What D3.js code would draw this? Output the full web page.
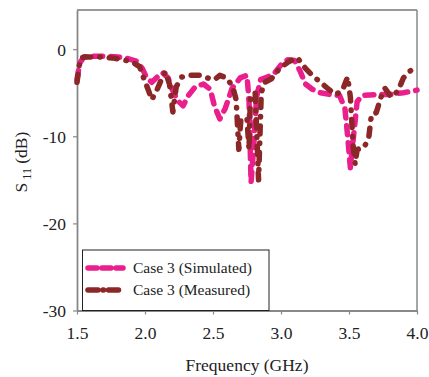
<!DOCTYPE html>
<html><head><meta charset="utf-8">
<script src="https://cdn.jsdelivr.net/npm/d3@7"></script>
<style>body{margin:0;background:#fff;} text{font-family:"Liberation Serif","Times New Roman",serif;}</style>
</head><body>
<svg id="c" width="429" height="377"></svg>
<script>
const xTicks = [1.5, 2.0, 2.5, 3.0, 3.5, 4.0];
const yTicks = [0, -10, -20, -30];
const seriesNames = ["Case 3 (Simulated)", "Case 3 (Measured)"];
const simF = [1.50,1.52,1.55,1.60,1.70,1.80,1.88,1.94,1.98,2.01,2.05,2.09,2.13,2.17,2.20,2.24,2.28,2.32,2.37,2.43,2.48,2.51,2.55,2.59,2.64,2.70,2.75,2.765,2.78,2.80,2.82,2.85,2.90,2.95,3.00,3.05,3.10,3.14,3.18,3.23,3.29,3.36,3.43,3.47,3.49,3.51,3.53,3.56,3.60,3.70,3.80,3.90,4.00];
const simDb = [-3.5,-1.6,-0.9,-0.8,-0.8,-0.9,-1.1,-1.4,-2.2,-3.2,-3.8,-3.2,-2.7,-3.3,-4.6,-5.9,-6.5,-5.3,-4.3,-4.0,-4.6,-6.5,-8.0,-6.8,-4.5,-3.3,-3.0,-6.0,-15.3,-11,-5.5,-3.5,-3.2,-2.8,-1.8,-1.2,-1.3,-2.5,-4.0,-4.6,-5.0,-5.2,-5.3,-6.8,-10,-13.6,-10.5,-6,-5.3,-5.2,-5.2,-5.0,-4.7];
const measF = [1.50,1.515,1.53,1.56,1.62,1.68,1.76,1.84,1.91,1.96,1.99,2.02,2.05,2.09,2.12,2.15,2.18,2.205,2.23,2.27,2.33,2.40,2.46,2.51,2.55,2.60,2.645,2.67,2.69,2.705,2.75,2.765,2.775,2.81,2.835,2.855,2.88,2.93,2.99,3.06,3.12,3.18,3.23,3.29,3.35,3.40,3.45,3.49,3.51,3.53,3.545,3.56,3.61,3.645,3.665,3.70,3.735,3.765,3.81,3.86,3.90,3.95,4.00];
const measDb = [-3.8,-2.0,-1.0,-0.9,-0.9,-0.9,-1.0,-1.2,-1.5,-2.0,-3.3,-4.5,-5.8,-4.6,-3.5,-2.6,-4.0,-7.2,-4.3,-3.2,-3.0,-3.0,-3.3,-3.5,-3.0,-3.3,-4.3,-5.8,-11.5,-8.0,-8.0,-11.5,-5.5,-5.0,-15.0,-5.0,-3.8,-3.4,-2.2,-1.4,-1.0,-2.2,-3.0,-3.8,-4.6,-5.2,-4.8,-3.2,-5.5,-11,-13.2,-11.5,-11.3,-10.2,-7.5,-7.3,-5.5,-4.5,-5.5,-4.8,-3.3,-2.5,-1.9];

const colors = ["#ea1f8d", "#8c2727"];
const dashes = ["9,8", "8,9,0.5,9"];

const svg = d3.select("#c");
const L = 77, R = 417, T = 10, B = 310.5;
const x = d3.scaleLinear().domain([1.5, 4.0]).range([L, R]);
const y = d3.scaleLinear().domain([-30, 4.5]).range([B, T]);

// frame
svg.append("line").attr("x1", L).attr("x2", R).attr("y1", T).attr("y2", T).attr("stroke", "#333").attr("stroke-width", 1.2);
svg.append("line").attr("x1", R).attr("x2", R).attr("y1", T).attr("y2", B).attr("stroke", "#888").attr("stroke-width", 1.5);

const xAxis = svg.append("g").attr("transform", `translate(0,${B})`)
  .call(d3.axisBottom(x).tickValues(xTicks).tickFormat(d3.format(".1f")).tickSize(4).tickSizeOuter(0));
const yAxis = svg.append("g").attr("transform", `translate(${L},0)`)
  .call(d3.axisLeft(y).tickValues(yTicks).tickFormat(d => d).tickSize(4).tickSizeOuter(0));
[xAxis, yAxis].forEach(g => {
  g.select(".domain").attr("stroke", "#888").attr("stroke-width", 1.8);
  g.selectAll(".tick line").attr("stroke", "#888").attr("stroke-width", 1.2);
  g.selectAll(".tick text").attr("fill", "#222").style("font-size", "17.5px")
    .style("font-family", "'Liberation Serif', serif");
});
xAxis.selectAll(".tick text").attr("dy", "1.25em");
yAxis.selectAll(".tick text").attr("x", -11).attr("dy", "0.35em");

const line = d3.line().x(d => x(d[0])).y(d => y(d[1]));
const sim = simF.map((f, i) => [f, simDb[i]]);
const meas = measF.map((f, i) => [f, measDb[i]]);
[sim, meas].forEach((data, i) => {
  svg.append("path").datum(data).attr("d", line).attr("fill", "none")
    .attr("stroke", colors[i]).attr("stroke-width", 5.5)
    .attr("stroke-linecap", "round").attr("stroke-linejoin", "round")
    .attr("stroke-dasharray", dashes[i]);
});

// legend
const lg = svg.append("g");
lg.append("rect").attr("x", 82.5).attr("y", 250).attr("width", 186.5).attr("height", 60.5)
  .attr("fill", "#fff").attr("stroke", "#222").attr("stroke-width", 1);
seriesNames.forEach((name, i) => {
  const yy = 268 + i * 22;
  lg.append("line").attr("x1", 88).attr("x2", 123).attr("y1", yy).attr("y2", yy)
    .attr("stroke", colors[i]).attr("stroke-width", 5.5).attr("stroke-linecap", "round")
    .attr("stroke-dasharray", i === 0 ? "9,5" : "10,5,0.5,5");
  lg.append("text").attr("x", 133).attr("y", yy).attr("dy", "0.35em")
    .style("font-size", "15.5px").attr("fill", "#222").text(name);
});

// axis titles
svg.append("text").attr("x", 247).attr("y", 371).attr("text-anchor", "middle")
  .style("font-size", "17.5px").attr("fill", "#222").text("Frequency (GHz)");
const yt = svg.append("text").attr("transform", "translate(27,162) rotate(-90)")
  .attr("text-anchor", "middle").style("font-size", "17.5px").attr("fill", "#222");
yt.append("tspan").text("S");
yt.append("tspan").attr("dy", 4).style("font-size", "12px").text(" 11");
yt.append("tspan").attr("dy", -4).text(" (dB)");
</script>
</body></html>
